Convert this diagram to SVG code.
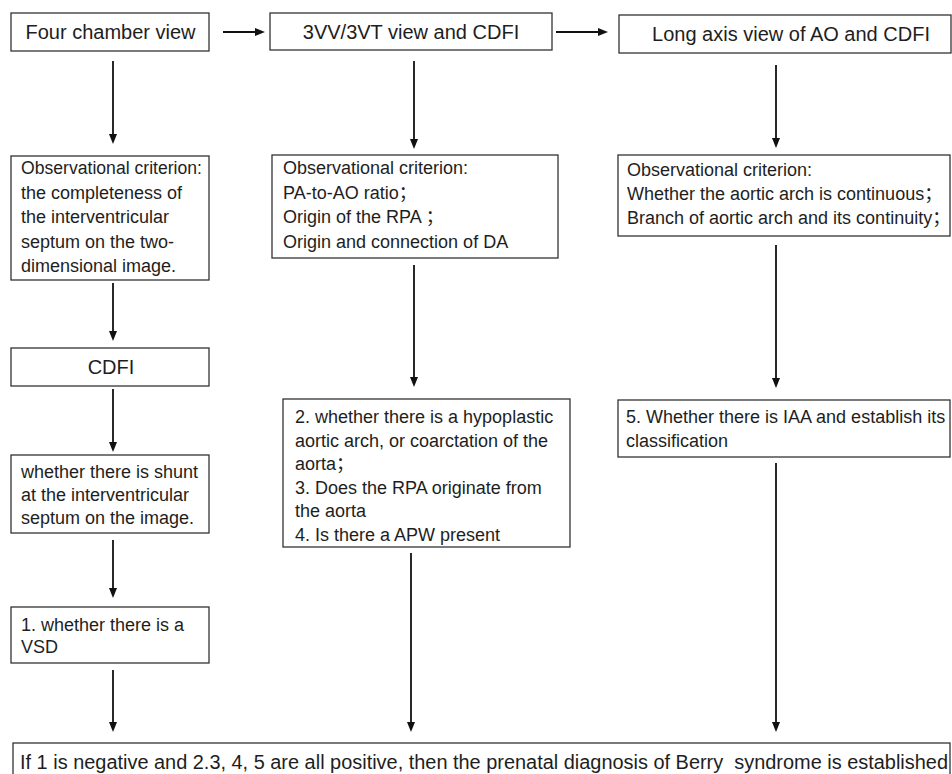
<svg xmlns="http://www.w3.org/2000/svg" width="952" height="774" viewBox="0 0 952 774">
<defs>
<style>
.box{fill:#fff;stroke:#333;stroke-width:1.3}
.t{font-family:"Liberation Sans","Noto Sans CJK SC",sans-serif;font-size:18px;fill:#1e1e1e}
.h{font-family:"Liberation Sans","Noto Sans CJK SC",sans-serif;font-size:20px;fill:#1e1e1e;text-anchor:middle}
.c{fill:none;stroke:#111;stroke-width:1.8}
</style>
<marker id="ah" viewBox="0 0 10 10" refX="5" refY="5" markerWidth="10" markerHeight="10" markerUnits="userSpaceOnUse" orient="auto">
<path d="M0,1 L10,5 L0,9 z" fill="#111"/>
</marker>
</defs>
<rect width="952" height="774" fill="#fff"/>
<g id="connectors">
<line class="c" x1="223" y1="32" x2="260" y2="32" marker-end="url(#ah)"/>
<line class="c" x1="556" y1="32" x2="603" y2="32" marker-end="url(#ah)"/>
<line class="c" x1="113" y1="61" x2="113" y2="139" marker-end="url(#ah)"/>
<line class="c" x1="414" y1="61" x2="414" y2="144" marker-end="url(#ah)"/>
<line class="c" x1="776" y1="65" x2="776" y2="143" marker-end="url(#ah)"/>
<line class="c" x1="113" y1="283" x2="113" y2="336" marker-end="url(#ah)"/>
<line class="c" x1="113" y1="389" x2="113" y2="447" marker-end="url(#ah)"/>
<line class="c" x1="113" y1="540" x2="113" y2="593" marker-end="url(#ah)"/>
<line class="c" x1="113" y1="670" x2="113" y2="727" marker-end="url(#ah)"/>
<line class="c" x1="414" y1="265" x2="414" y2="382" marker-end="url(#ah)"/>
<line class="c" x1="411" y1="553" x2="411" y2="727" marker-end="url(#ah)"/>
<line class="c" x1="776" y1="245" x2="776" y2="383" marker-end="url(#ah)"/>
<line class="c" x1="776" y1="463" x2="776" y2="727" marker-end="url(#ah)"/>
</g>
<g id="four-chamber">
<rect class="box" x="11" y="13" width="198" height="38"/>
<text class="h" x="110.5" y="39">Four chamber view</text>
</g>
<g id="three-vv">
<rect class="box" x="270" y="13" width="282" height="37"/>
<text class="h" x="411" y="39">3VV/3VT view and CDFI</text>
</g>
<g id="long-axis">
<rect class="box" x="619" y="15" width="332" height="38"/>
<text class="h" x="791" y="41">Long axis view of AO and CDFI</text>
</g>
<g id="crit1">
<rect class="box" x="11" y="156" width="198" height="124"/>
<text class="t" x="21" y="174" textLength="181" lengthAdjust="spacingAndGlyphs">Observational criterion:</text>
<text class="t" x="21" y="198.5">the completeness of</text>
<text class="t" x="21" y="223">the interventricular</text>
<text class="t" x="21" y="247.5">septum on the two-</text>
<text class="t" x="21" y="272">dimensional image.</text>
</g>
<g id="crit2">
<rect class="box" x="272" y="155" width="286" height="103"/>
<text class="t" x="283" y="174">Observational criterion:</text>
<text class="t" x="283" y="198.5">PA-to-AO ratio；</text>
<text class="t" x="283" y="223">Origin of the RPA ；</text>
<text class="t" x="283" y="247.5">Origin and connection of DA</text>
</g>
<g id="crit3">
<rect class="box" x="618" y="155" width="332" height="81"/>
<text class="t" x="627" y="176">Observational criterion:</text>
<text class="t" x="627" y="200">Whether the aortic arch is continuous；</text>
<text class="t" x="627" y="224">Branch of aortic arch and its continuity；</text>
</g>
<g id="cdfi">
<rect class="box" x="11" y="348" width="198" height="38"/>
<text class="h" x="111" y="374">CDFI</text>
</g>
<g id="shunt">
<rect class="box" x="11" y="455" width="198" height="78"/>
<text class="t" x="21" y="478">whether there is shunt</text>
<text class="t" x="21" y="501">at the interventricular</text>
<text class="t" x="21" y="524">septum on the image.</text>
</g>
<g id="vsd">
<rect class="box" x="11" y="607" width="198" height="56"/>
<text class="t" x="21" y="631">1. whether there is a</text>
<text class="t" x="21" y="653">VSD</text>
</g>
<g id="arch">
<rect class="box" x="283" y="399" width="287" height="148"/>
<text class="t" x="295" y="423">2. whether there is a hypoplastic</text>
<text class="t" x="295" y="446.5">aortic arch, or coarctation of the</text>
<text class="t" x="295" y="470">aorta；</text>
<text class="t" x="295" y="493.5">3. Does the RPA originate from</text>
<text class="t" x="295" y="517">the aorta</text>
<text class="t" x="295" y="540.5">4. Is there a APW present</text>
</g>
<g id="iaa">
<rect class="box" x="618" y="400" width="332" height="57"/>
<text class="t" x="626" y="423">5. Whether there is IAA and establish its</text>
<text class="t" x="626" y="447">classification</text>
</g>
<g id="conclusion">
<rect class="box" x="13" y="743" width="937" height="40"/>
<text class="t" x="20" y="769" style="font-size:20px;white-space:pre" textLength="928" lengthAdjust="spacingAndGlyphs">If 1 is negative and 2.3, 4, 5 are all positive, then the prenatal diagnosis of Berry  syndrome is established</text>
</g>
</svg>
